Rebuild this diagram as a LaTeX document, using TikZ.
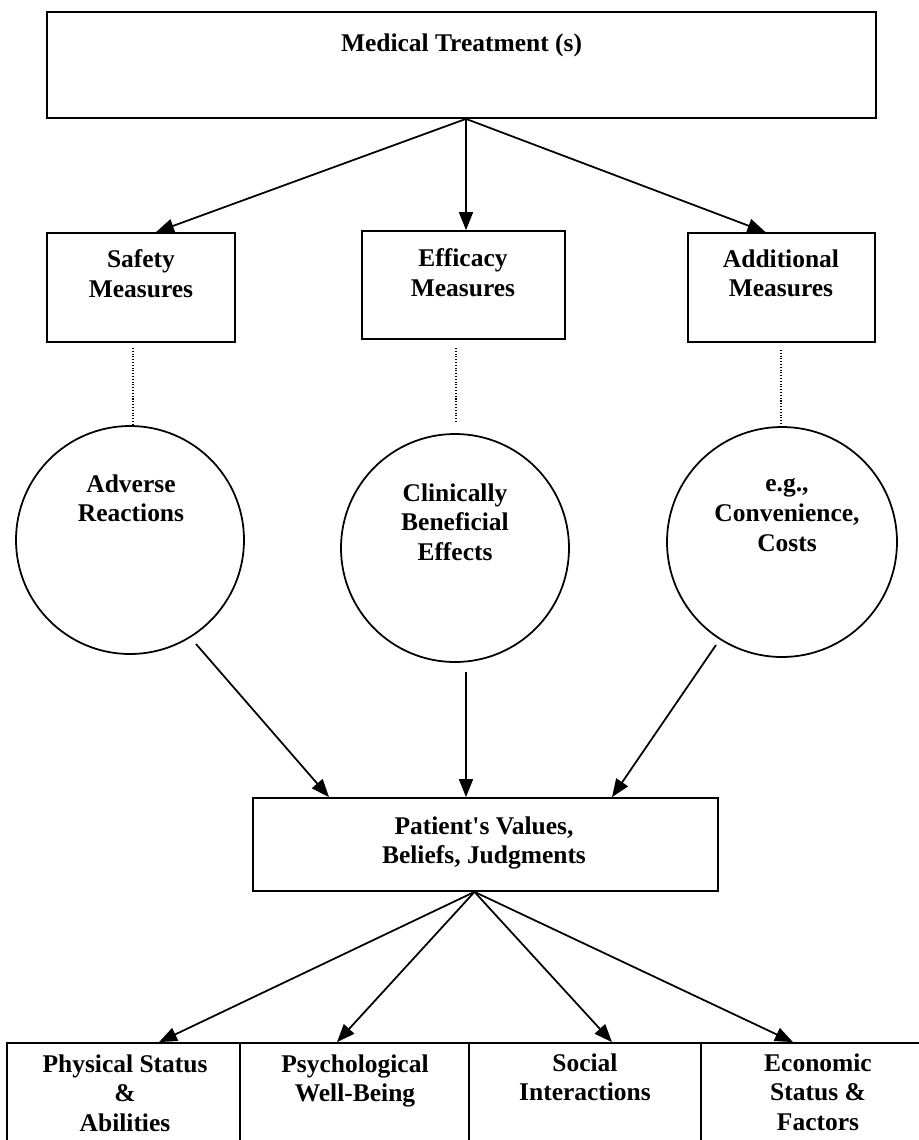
\documentclass[tikz,border=0pt]{standalone}
\usepackage{fontspec}
\setmainfont{Liberation Serif}
\usetikzlibrary{arrows.meta,calc}
\newcommand{\pxu}{0.02cm}
\begin{document}
\begin{tikzpicture}[x=0.02cm,y=-0.02cm,
  box/.style={draw,line width=1pt,inner sep=0pt},
  ring/.style={draw,circle,line width=1pt,inner sep=0pt},
  txt/.style={anchor=north,align=center,inner sep=0pt,font=\fontsize{14.5}{17}\selectfont\bfseries},
  arr/.style={line width=1pt,-{Triangle[length=0.36cm,width=0.28cm]}},
  dotline/.style={densely dotted,line width=0.6pt}]
\useasboundingbox (0,0) rectangle (919,1140);
% treatment and the three kinds of measures
\node[box,minimum width=829*\pxu,minimum height=106*\pxu] (treat) at (461.5,65) {};
\node[txt] (treat-t) at (461.5,33) {Medical Treatment (s)};
\node[box,minimum width=188*\pxu,minimum height=109*\pxu] (safety) at (141,287.5) {};
\node[txt] (safety-t) at (141,249) {Safety\\Measures};
\node[box,minimum width=203*\pxu,minimum height=108*\pxu] (effic) at (463.5,285) {};
\node[txt] (effic-t) at (463,248) {Efficacy\\Measures};
\node[box,minimum width=187*\pxu,minimum height=109*\pxu] (addit) at (781.5,287.5) {};
\node[txt] (addit-t) at (781,249) {Additional\\Measures};
% outcomes
\node[ring,minimum size=228*\pxu] (adv) at (130,540) {};
\node[txt] (adv-t) at (131,474) {Adverse\\Reactions};
\node[ring,minimum size=228*\pxu] (clin) at (455,548) {};
\node[txt] (clin-t) at (455,483) {Clinically\\Beneficial\\Effects};
\node[ring,minimum size=230*\pxu] (conv) at (782,542) {};
\node[txt] (conv-t) at (787,478) {e.g.,\\Convenience,\\Costs};
% patient
\node[box,minimum width=465*\pxu,minimum height=93*\pxu] (patient) at (485.5,844.5) {};
\node[txt] (patient-t) at (484,816) {Patient\textquotesingle s Values,\\Beliefs, Judgments};
% quality of life domains
\node[box,minimum width=233*\pxu,minimum height=117*\pxu] (phys) at (123.5,1101.5) {};
\node[txt] (phys-t) at (125,1054) {Physical Status\\\&\\Abilities};
\node[box,minimum width=229*\pxu,minimum height=117*\pxu] (psych) at (354.5,1101.5) {};
\node[txt] (psych-t) at (355,1054) {Psychological\\Well-Being};
\node[box,minimum width=232*\pxu,minimum height=117*\pxu] (social) at (585,1101.5) {};
\node[txt] (social-t) at (585,1053) {Social\\Interactions};
\node[box,minimum width=234*\pxu,minimum height=117*\pxu] (econ) at (818,1101.5) {};
\node[txt] (econ-t) at (818,1053) {Economic\\Status \&\\Factors};

\draw[arr] ($(treat.south)+(4.5,0)$) -- ($(safety.north)+(15,0)$);
\draw[arr] ($(treat.south)+(4.5,0)$) -- ($(effic.north)+(2.5,0)$);
\draw[arr] ($(treat.south)+(4.5,0)$) -- ($(addit.north)+(-16,0)$);
\draw[dotline] ($(adv.north |- safety.south)+(3,5)$) -- ($(adv.north)+(3,0)$);
\draw[dotline] ($(clin.north |- effic.south)+(1,8)$) -- ($(clin.north)+(1,-11)$);
\draw[dotline] ($(conv.north |- addit.south)+(-1,7)$) -- ($(conv.north)+(-1,0)$);
\draw[arr] ($(adv.center)+(66,104)$) -- ($(patient.north)+(-156.5,0)$);
\draw[arr] ($(clin.center)+(11,124)$) -- ($(patient.north)+(-19.5,0)$);
\draw[arr] ($(conv.center)+(-66,103)$) -- ($(patient.north)+(126.5,0)$);
\foreach \dom/\dx in {phys/35.5,psych/-17.5,social/27,econ/-25}
  \draw[arr] ($(patient.south)+(-11,0)$) -- ($(\dom.north)+(\dx,0)$);
\end{tikzpicture}
\end{document}
